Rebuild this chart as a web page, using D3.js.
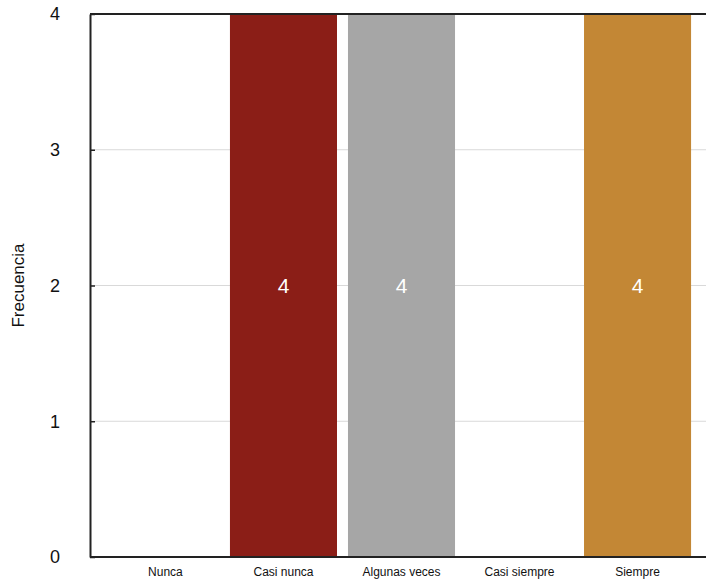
<!DOCTYPE html>
<html>
<head>
<meta charset="utf-8">
<script src="https://cdn.jsdelivr.net/npm/d3@7"></script>
<style>
  body { margin: 0; background: #fff; }
  text { font-family: "Helvetica Neue", Arial, "Liberation Sans", sans-serif; }
</style>
</head>
<body>
<div id="chart"></div>
<script>
// Chart data
var categories = ["Nunca", "Casi nunca", "Algunas veces", "Casi siempre", "Siempre"];
var values = [0, 4, 4, 0, 4];
var colors = ["#5b7fa6", "#8b1e17", "#a6a6a6", "#4d6b3c", "#c38735"];
var yTicks = [0, 1, 2, 3, 4];

var data = categories.map(function(c, i) {
  return {category: c, value: values[i], color: colors[i]};
});

var width = 706, height = 580;
var plotLeft = 90, plotTop = 14, plotBottom = 557;

var svg = d3.select("#chart").append("svg")
    .attr("width", width)
    .attr("height", height);

// Scales
var x = d3.scaleBand()
    .domain(categories)
    .range([106.5, 696.5])
    .paddingInner(0.093)
    .paddingOuter(0.046);

var y = d3.scaleLinear()
    .domain([0, 4])
    .range([plotBottom, plotTop]);

// Gridlines
svg.append("g")
    .selectAll("line")
    .data(yTicks.slice(1, -1))
  .enter().append("line")
    .attr("x1", plotLeft)
    .attr("x2", width)
    .attr("y1", function(d) { return y(d); })
    .attr("y2", function(d) { return y(d); })
    .attr("stroke", "#d9d9d9")
    .attr("stroke-width", 1);

// Bars
svg.selectAll(".bar")
    .data(data)
  .enter().append("rect")
    .attr("class", "bar")
    .attr("x", function(d) { return x(d.category); })
    .attr("y", function(d) { return y(d.value); })
    .attr("width", x.bandwidth())
    .attr("height", function(d) { return y(0) - y(d.value); })
    .attr("fill", function(d) { return d.color; });

// Value labels
svg.selectAll(".val")
    .data(data.filter(function(d) { return d.value > 0; }))
  .enter().append("text")
    .attr("class", "val")
    .attr("x", function(d) { return x(d.category) + x.bandwidth() / 2; })
    .attr("y", function(d) { return y(d.value / 2); })
    .attr("dy", "0.36em")
    .attr("text-anchor", "middle")
    .attr("fill", "#fff")
    .style("font-size", "21px")
    .text(function(d) { return d.value; });

// Top border
svg.append("line")
    .attr("x1", plotLeft).attr("x2", width)
    .attr("y1", plotTop).attr("y2", plotTop)
    .attr("stroke", "#222").attr("stroke-width", 2);

// Y axis
var yAxis = svg.append("g")
    .attr("transform", "translate(" + plotLeft + ",0)")
    .call(d3.axisLeft(y).tickValues(yTicks).tickFormat(d3.format("d")).tickSize(-5).tickPadding(30).tickSizeOuter(0));
yAxis.select(".domain").attr("stroke", "#222").attr("stroke-width", 2);
yAxis.selectAll(".tick line").attr("stroke", "#222").attr("stroke-width", 1.5);
yAxis.selectAll(".tick text")
    .attr("fill", "#111")
    .style("font-size", "18px");

// X axis
var xAxis = svg.append("g")
    .attr("transform", "translate(0," + plotBottom + ")")
    .call(d3.axisBottom(x).tickSize(0).tickPadding(10));
xAxis.select(".domain").attr("d", "M" + plotLeft + ",0H" + width).attr("stroke", "#222").attr("stroke-width", 2);
xAxis.selectAll(".tick text")
    .attr("fill", "#111")
    .style("font-size", "12px");

// Y label
svg.append("text")
    .attr("transform", "translate(24," + y(2) + ") rotate(-90)")
    .attr("text-anchor", "middle")
    .attr("fill", "#111")
    .style("font-size", "17px")
    .text("Frecuencia");
</script>
</body>
</html>
